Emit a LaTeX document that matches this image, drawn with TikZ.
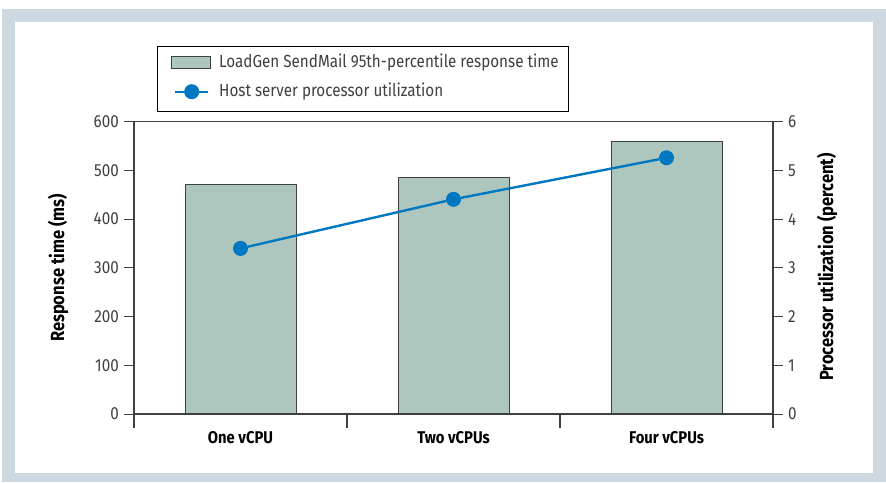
\documentclass[tikz,border=0pt]{standalone}
\usepackage{fontspec}
\setmainfont{Fira Sans}[FakeStretch=0.87]
\usetikzlibrary{positioning}
\definecolor{framegray}{HTML}{CDD8E0}
\definecolor{barfill}{HTML}{ADC7BE}
\definecolor{lineblue}{HTML}{0078C1}
\definecolor{axisgray}{HTML}{404040}

\tikzset{
  bar/.style={draw=axisgray,fill=barfill,line width=0.9pt,inner sep=0pt,minimum width=111pt,anchor=south},
  dot/.style={circle,fill=lineblue,inner sep=0pt,minimum size=15pt},
  util/.style={draw=lineblue,line width=2.4pt},
  axisline/.style={draw=axisgray,line width=1.4pt},
  ticklabel/.style={font=\fontsize{17.5}{20}\selectfont,text=axisgray,inner sep=0pt},
  catlabel/.style={font=\fontsize{17}{20}\selectfont\bfseries,inner sep=0pt},
  axistitle/.style={font=\fontsize{19}{22}\selectfont\bfseries,rotate=90,inner sep=0pt}
}

\begin{document}
\begin{tikzpicture}[x=1pt,y=-1pt]
\useasboundingbox (0,0) rectangle (886,482);
% frame
\fill[framegray] (2,9) rectangle (886,482);
\fill[white] (15,22) rectangle (873,473);

% bars (48.72pt per 100 ms)
\node[bar,minimum height=229.5pt] (b1) at (240.5,414) {};
\node[bar,minimum height=235.8pt] (b2) at (453.5,414) {};
\node[bar,minimum height=271.9pt] (b3) at (666.5,414) {};

% axes
\draw[axisline] (134,121.7) -- (773,121.7);
\draw[axisline] (134,414) -- (773,414);
\draw[axisline] (134,121.7) -- (134,428);
\draw[axisline] (773,121.7) -- (773,428);
\draw[axisline] (347,414) -- (347,428);
\draw[axisline] (560,414) -- (560,428);
\foreach \k/\lab in {0/0,1/100,2/200,3/300,4/400,5/500,6/600} {
  \draw[axisline,line width=1pt] (124,414-\k*48.72) -- (134,414-\k*48.72);
  \node[ticklabel,anchor=east] (l\k) at (119,414-\k*48.72) {\lab};
  \draw[axisline,line width=1pt] (773,414-\k*48.72) -- (783,414-\k*48.72);
  \node[ticklabel,anchor=west] (r\k) at (788,414-\k*48.72) {\k};
}

% categories
\node[catlabel] (c1) at (240.5,438) {One vCPU};
\node[catlabel] (c2) at (453.5,438) {Two vCPUs};
\node[catlabel] (c3) at (666.5,438) {Four vCPUs};

% axis titles
\node[axistitle] (yleft) at (58,268) {Response time (ms)};
\node[axistitle] (yright) at (827,267) {Processor utilization (percent)};

% utilization line
\node[dot] (p1) at (240.5,248.4) {};
\node[dot] (p2) at (453.5,199.3) {};
\node[dot] (p3) at (666.5,157.8) {};
\draw[util] (p1) -- (p2) -- (p3);

% legend
\node[draw=black,line width=0.9pt,minimum width=410.6pt,minimum height=65pt,inner sep=0pt] (legend) at (363,78.5) {};
\node[draw=axisgray,fill=barfill,line width=0.9pt,minimum width=39pt,minimum height=12.3pt,inner sep=0pt] (swatch) at (190.5,62.2) {};
\node[ticklabel,anchor=west] (t1) at (219,62.5) {LoadGen SendMail 95th-percentile response time};
\coordinate (la) at (175,91.7);
\coordinate (lb) at (208,91.7);
\draw[util] (la) -- (lb);
\node[dot] (ldot) at (191.7,91.7) {};
\node[ticklabel,anchor=west] (t2) at (219,91.7) {Host server processor utilization};
\end{tikzpicture}
\end{document}
